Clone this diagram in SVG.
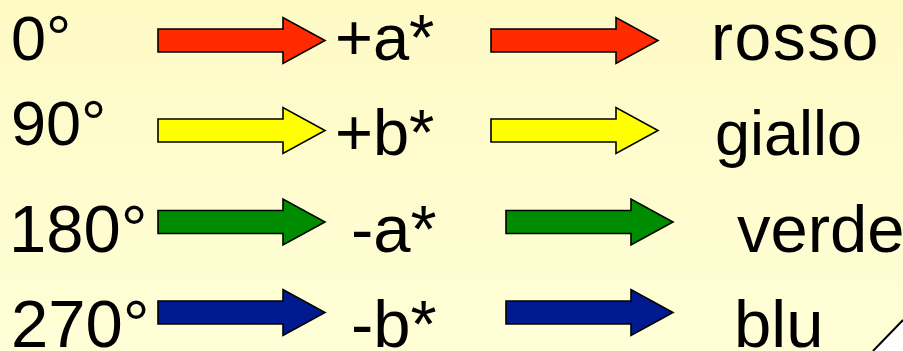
<svg xmlns="http://www.w3.org/2000/svg" xmlns:xlink="http://www.w3.org/1999/xlink" width="903" height="351" viewBox="0 0 903 351">
  <defs>
    <linearGradient id="bg" x1="0" y1="0" x2="0" y2="1">
      <stop offset="0" stop-color="#FEFAC6"/>
      <stop offset="1" stop-color="#FFFED6"/>
    </linearGradient>
    <path id="arrow" d="M0,-11.5 H125 V-23 L167,0 L125,23 V11.5 H0 Z"/>
  </defs>
  <style>
    .t { font-family: "Liberation Sans", Arial, sans-serif; fill: #000; }
    .s1 { font-size: 63px; }
    .s2 { font-size: 67px; }
    .s3 { font-size: 65px; }
    .s4 { font-size: 66px; letter-spacing: 1.5px; }
    .a { stroke: #000; stroke-width: 1.6; stroke-linejoin: miter; }
    .red { fill: #FF2A00; }
    .yel { fill: #FFFF00; }
    .grn { fill: #008C00; }
    .blu { fill: #001A8F; }
  </style>
  <rect x="0" y="0" width="903" height="351" fill="url(#bg)"/>
  <g id="corner">
    <path d="M873,351 L903,320 L903,351 Z" fill="#FFFFFF"/>
    <line x1="873" y1="351" x2="903" y2="320" stroke="#000" stroke-width="2"/>
  </g>

  <g id="connectors">
    <use xlink:href="#arrow" class="a red" transform="translate(158,40.5)"/>
    <use xlink:href="#arrow" class="a red" transform="translate(491,40.5)"/>
    <use xlink:href="#arrow" class="a yel" transform="translate(158,130.5)"/>
    <use xlink:href="#arrow" class="a yel" transform="translate(491,130.5)"/>
    <use xlink:href="#arrow" class="a grn" transform="translate(158,222)"/>
    <use xlink:href="#arrow" class="a grn" transform="translate(506,222)"/>
    <use xlink:href="#arrow" class="a blu" transform="translate(158,312.5)"/>
    <use xlink:href="#arrow" class="a blu" transform="translate(506,312.5)"/>
  </g>

  <g id="angle-0"><text class="t s1" x="11" y="60">0°</text></g>
  <g id="angle-90"><text class="t s1" x="11" y="145">90°</text></g>
  <g id="angle-180"><text class="t s2" x="9" y="252">180°</text></g>
  <g id="angle-270"><text class="t s2" x="11" y="347">270°</text></g>

  <g id="axis-plus-a"><text class="t s3" x="335" y="60">+a*</text></g>
  <g id="axis-plus-b"><text class="t s3" x="335" y="155">+b*</text></g>
  <g id="axis-minus-a"><text class="t s2" x="351" y="252">-a*</text></g>
  <g id="axis-minus-b"><text class="t s2" x="351" y="347">-b*</text></g>

  <g id="color-rosso"><text class="t s4" x="711" y="60">rosso</text></g>
  <g id="color-giallo"><text class="t s1" x="715" y="155">giallo</text></g>
  <g id="color-verde"><text class="t s2" x="737" y="252">verde</text></g>
  <g id="color-blu"><text class="t s2" x="734" y="347">blu</text></g>
</svg>
